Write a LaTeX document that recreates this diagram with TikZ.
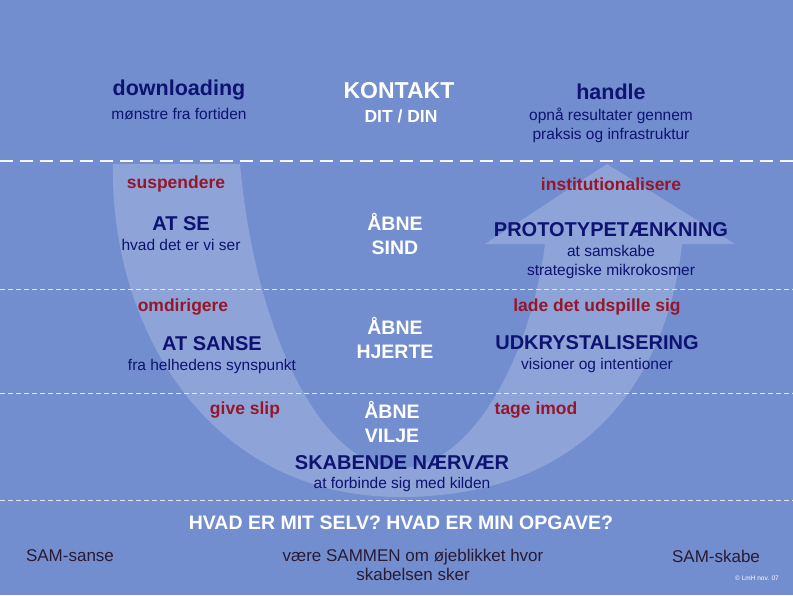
\documentclass[tikz,border=0pt]{standalone}
\usepackage{fontspec}
\setmainfont{Liberation Sans}
\usetikzlibrary{positioning}
\definecolor{bgblue}{RGB}{114,142,207}
\definecolor{navy}{RGB}{14,18,112}
\definecolor{wine}{RGB}{150,22,42}
\definecolor{ink}{RGB}{42,26,52}
\tikzset{
  % --- texts --------------------------------------------------------------
  head/.style={inner sep=0pt,text=navy,font=\fontsize{20}{24}\selectfont\bfseries},
  big/.style={head,font=\fontsize{21.5}{26}\selectfont\bfseries},
  sub/.style={inner sep=0pt,text=navy,align=center,
              font=\fontsize{15.5}{19}\selectfont},
  verb/.style={inner sep=0pt,text=wine,font=\fontsize{17.5}{21}\selectfont\bfseries},
  open/.style={inner sep=0pt,text=white,align=center,
               font=\fontsize{19.5}{24}\selectfont\bfseries},
  foot/.style={inner sep=0pt,text=ink,align=center,
               font=\fontsize{17}{19}\selectfont},
  % --- level separators ---------------------------------------------------
  sepmajor/.style={white!92!bgblue,line width=1.8pt,
                   dash pattern=on 12.5pt off 7.5pt},
  sepminor/.style={white!80!bgblue,line width=1pt,dash pattern=on 5pt off 3pt},
}
\begin{document}
\begin{tikzpicture}[x=1pt,y=-1pt]
  \fill[bgblue] (0,0) rectangle (793,595);
  \useasboundingbox (0,0) rectangle (793,595);

  % the U: down the left arm, up through the arrow on the right
  \fill[white,fill opacity=0.2]
    (113,164) .. controls (110,330) and (210,497) .. (400,497)
    .. controls (600,497) and (670,360) .. (682,244)
    -- (735,244) -- (607,164) -- (485,244) -- (545,244)
    .. controls (530,360) and (470,468) .. (400,468)
    .. controls (320,468) and (255,330) .. (240,164) -- cycle;

  \draw[sepmajor] (0,161) -- (793,161);
  \foreach \y in {289,393,500}
    \draw[sepminor] (0,\y) -- (793,\y);

  % top row
  \node[big] (down) at (179,90) {downloading};
  \node[sub,below=7.5pt of down] (downsub) {mønstre fra fortiden};
  \node[big,text=white,font=\fontsize{23}{26}\selectfont\bfseries] (kontakt)
       at (399,91) {KONTAKT};
  \node[open,font=\fontsize{17.5}{21}\selectfont\bfseries] (ditdin)
       at (401,116) {DIT / DIN};
  \node[big] (handle) at (611,92) {handle};
  \node[sub,below=7.5pt of handle] (handlesub)
       {opnå resultater gennem\\praksis og infrastruktur};

  % level 1
  \node[verb] (susp) at (176,184) {suspendere};
  \node[head] (atse) at (181,224) {AT SE};
  \node[sub,below=7.5pt of atse] (atsesub) {hvad det er vi ser};
  \node[open] (sind) at (395,234) {ÅBNE\\SIND};
  \node[verb] (inst) at (611,184) {institutionalisere};
  \node[head] (proto) at (611,230) {PROTOTYPETÆNKNING};
  \node[sub,below=7.5pt of proto] (protosub)
       {at samskabe\\strategiske mikrokosmer};

  % level 2
  \node[verb] (omdir) at (183,307) {omdirigere};
  \node[head] (atsanse) at (212,344) {AT SANSE};
  \node[sub,below=7.5pt of atsanse] (atsansesub) {fra helhedens synspunkt};
  \node[open] (hjerte) at (395,338) {ÅBNE\\HJERTE};
  \node[verb] (lade) at (597,307) {lade det udspille sig};
  \node[head] (udkr) at (597,343) {UDKRYSTALISERING};
  \node[sub,below=7.5pt of udkr] (udkrsub) {visioner og intentioner};

  % level 3 -- bottom of the U
  \node[verb] (give) at (245,410) {give slip};
  \node[open] (vilje) at (392,422) {ÅBNE\\VILJE};
  \node[verb] (tage) at (536,410) {tage imod};
  \node[head] (skab) at (402,463) {SKABENDE NÆRVÆR};
  \node[sub,below=6.8pt of skab] (skabsub) {at forbinde sig med kilden};

  % footer
  \node[open] (hvad) at (401,523) {HVAD ER MIT SELV? HVAD ER MIN OPGAVE?};
  \node[foot] (samsanse) at (70,556) {SAM-sanse};
  \node[foot] (sammen) at (413,565)
       {være SAMMEN om øjeblikket hvor\\skabelsen sker};
  \node[foot] (samskabe) at (716,556) {SAM-skabe};
  \node[inner sep=0pt,text=white,font=\fontsize{6.5}{8}\selectfont] (copy)
       at (757,578) {© LmH nov. 07};
\end{tikzpicture}
\end{document}
